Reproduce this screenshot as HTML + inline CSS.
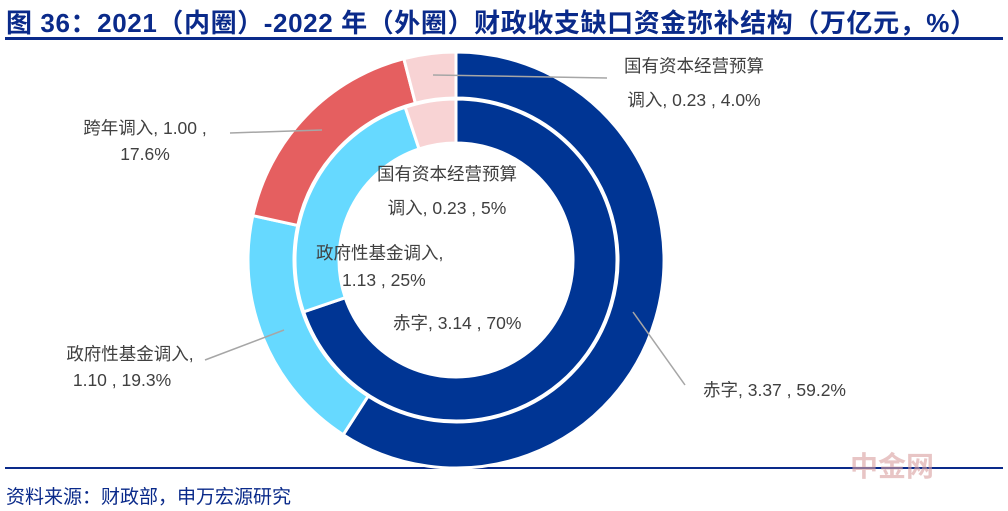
<!DOCTYPE html>
<html><head><meta charset="utf-8"><style>
body{margin:0;width:1008px;height:511px;background:#fff;overflow:hidden;font-family:"Liberation Sans","Noto Sans CJK SC",sans-serif}
.t{position:absolute;white-space:nowrap}
</style></head><body>
<div class="t" style="left:6px;top:3px;font-size:26px;letter-spacing:0.6px;font-weight:bold;color:#0a2a8a;">图 36：2021（内圈）-2022 年（外圈）财政收支缺口资金弥补结构（万亿元，%）</div>
<div style="position:absolute;left:5px;top:37px;width:998px;height:3px;background:#0a2a8a"></div>
<div style="position:absolute;left:5px;top:467px;width:998px;height:2px;background:#0a2a8a"></div>
<div class="t" style="left:6px;top:482px;font-size:19px;color:#0a2a8a">资料来源：财政部，申万宏源研究</div>
<div class="t" style="left:850px;top:445px;font-size:28px;font-weight:bold;color:#d9a0a0;opacity:.6">中金网</div>
<svg id="c" width="1008" height="511" style="position:absolute;left:0;top:0"></svg>
<script>
const outerCats=['赤字','政府性基金调入','跨年调入','国有资本经营预算调入'];
const outerVals=[3.37,1.10,1.00,0.23];
const innerCats=['赤字','政府性基金调入','国有资本经营预算调入'];
const innerVals=[3.14,1.13,0.23];
const colors=['#003594','#66d9ff','#e55f60','#f8d3d4'];
const innerColors=['#003594','#66d9ff','#f8d3d4'];
const svg=document.getElementById('c');const NS='http://www.w3.org/2000/svg';
const cx=456,cy=260;
function arc(a0,a1,r0,r1){const p=(a,r)=>[cx+r*Math.sin(a),cy-r*Math.cos(a)];const l=a1-a0>Math.PI?1:0;
const [x0,y0]=p(a0,r1),[x1,y1]=p(a1,r1),[x2,y2]=p(a1,r0),[x3,y3]=p(a0,r0);
return `M${x0} ${y0}A${r1} ${r1} 0 ${l} 1 ${x1} ${y1}L${x2} ${y2}A${r0} ${r0} 0 ${l} 0 ${x3} ${y3}Z`;}
function ring(vals,cols,r0,r1,names,pre){const tot=vals.reduce((a,b)=>a+b,0);let a=0;
vals.forEach((v,i)=>{const a1=a+v/tot*2*Math.PI;const p=document.createElementNS(NS,'path');
p.setAttribute('d',arc(a,a1,r0,r1));p.setAttribute('fill',cols[i]);p.setAttribute('stroke','#fff');p.setAttribute('stroke-width','3');


svg.appendChild(p);a=a1;});}
ring(outerVals,colors,162,208,outerCats,'outer');
ring(innerVals,innerColors,117,161,innerCats,'inner');
const leaders=[[433,75,607,78],[230,133,322,130],[205,360,284,330],[633,312,685,385]];
leaders.forEach((l,i)=>{const e=document.createElementNS(NS,'line');e.setAttribute('x1',l[0]);e.setAttribute('y1',l[1]);e.setAttribute('x2',l[2]);e.setAttribute('y2',l[3]);e.setAttribute('stroke','#a6a6a6');e.setAttribute('stroke-width','1.5');


svg.appendChild(e);});
const labels=[[694,72,'国有资本经营预算','middle'],[694,106,'调入, 0.23 , 4.0%','middle'],
[145,134,'跨年调入, 1.00 ,','middle'],[145,160,'17.6%','middle'],
[130,360,'政府性基金调入,','middle'],[122,386,'1.10 , 19.3%','middle'],
[703,396,'赤字, 3.37 , 59.2%','start'],
[447,180,'国有资本经营预算','middle'],[447,214,'调入, 0.23 , 5%','middle'],
[316,259,'政府性基金调入,','start'],[342,286,'1.13 , 25%','start'],
[393,329,'赤字, 3.14 , 70%','start']];
labels.forEach(l=>{const t=document.createElementNS(NS,'text');t.setAttribute('x',l[0]);t.setAttribute('y',l[1]);t.setAttribute('text-anchor',l[3]);t.setAttribute('font-size','17.5');t.setAttribute('fill','#404040');t.textContent=l[2];


svg.appendChild(t);});
</script>
</body></html>
